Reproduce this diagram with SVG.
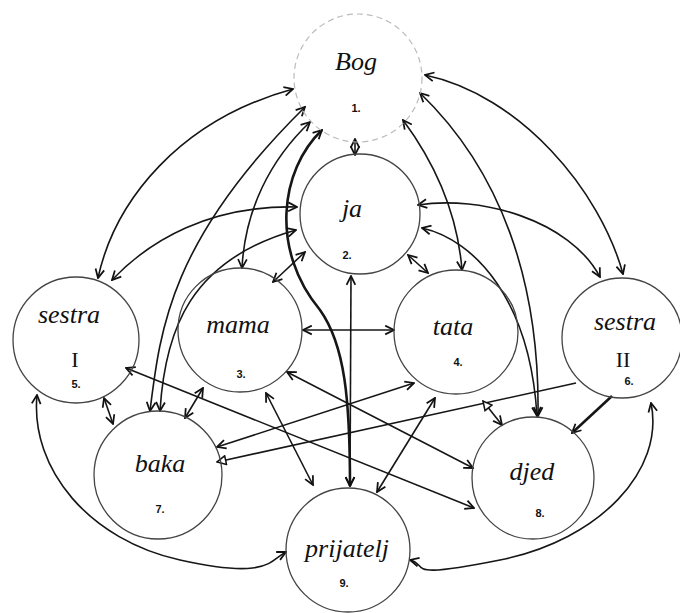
<svg xmlns="http://www.w3.org/2000/svg" width="680" height="613" viewBox="0 0 680 613">
<defs>
<marker id="a" viewBox="0 0 10 10" refX="9" refY="5" markerWidth="11" markerHeight="11" markerUnits="userSpaceOnUse" orient="auto-start-reverse"><path d="M1,1 L9,5 L1,9" fill="none" stroke="#111" stroke-width="1.6"/></marker>
<marker id="t" viewBox="0 0 10 10" refX="9" refY="5" markerWidth="11" markerHeight="11" markerUnits="userSpaceOnUse" orient="auto-start-reverse"><path d="M1,1 L9,5 L1,9 Z" fill="#fff" stroke="#111" stroke-width="1.4"/></marker>
<style>
.c{fill:none;stroke:#444;stroke-width:1.3}
.cb{fill:none;stroke:#bbb;stroke-width:1.2;stroke-dasharray:6 4}
.e{fill:none;stroke:#161616;stroke-width:1.6;marker-start:url(#a);marker-end:url(#a)}
.k{stroke-width:2.6}
.n{font-family:"Liberation Serif","DejaVu Serif",serif;font-style:italic;font-size:26px;fill:#111;text-anchor:middle}
.d{font-family:"Liberation Sans","DejaVu Sans",sans-serif;font-size:11px;font-weight:bold;fill:#111;text-anchor:middle}
.r{font-family:"Liberation Serif","DejaVu Serif",serif;font-size:22px;fill:#111;text-anchor:middle}
</style>
</defs>
<g id="connectors">
<path class="e" d="M98 278 C115 200 180 120 293 89"/>
<path class="e" d="M150 411 C160 330 170 240 305 107"/>
<path class="e" d="M310 122 C270 160 245 210 242 268"/>
<path class="e k" d="M322 130 C280 170 270 250 320 310 C345 345 350 400 350 486"/>
<path class="e" d="M355 139 L355 155"/>
<path class="e" d="M425 75 C520 95 600 190 623 274"/>
<path class="e" d="M420 93 C500 170 540 280 538 416"/>
<path class="e" d="M403 120 C440 170 458 220 462 270"/>
<path class="e" d="M418 205 C480 195 570 220 600 277"/>
<path class="e" d="M422 228 C475 240 530 300 537 416"/>
<path class="e" d="M408 255 L428 273"/>
<path class="e" d="M305 252 L273 282"/>
<path class="e" d="M351 276 L350 486"/>
<path class="e" d="M112 280 C150 240 210 205 297 207"/>
<path class="e" d="M160 411 C165 330 190 260 296 230"/>
<path class="e" d="M303 330 L394 330"/>
<path class="e" d="M203 388 L185 418"/>
<path class="e" d="M287 372 L473 468"/>
<path class="e" d="M266 393 L313 485"/>
<path class="e" d="M414 383 L217 447"/>
<path d="M576 383 L217 462" fill="none" stroke="#161616" stroke-width="1.6" marker-end="url(#t)"/>
<path d="M483 401 L502 425" fill="none" stroke="#161616" stroke-width="1.6" marker-start="url(#t)" marker-end="url(#a)"/>
<path class="e" d="M435 398 L377 492"/>
<path class="e" d="M126 368 L474 508"/>
<path class="e" d="M104 398 L113 424"/>
<path class="e" d="M37 395 C30 470 90 540 180 560 S270 560 286 552"/>
<path class="e" d="M651 403 C665 470 600 540 500 560 S430 565 410 560"/>
<path d="M612 396 L572 433" fill="none" stroke="#161616" stroke-width="2.6" marker-end="url(#a)"/>
</g>
<g id="bog"><circle class="cb" cx="358" cy="78" r="64"/><text class="n" x="356" y="70">Bog</text><text class="d" x="356" y="112">1.</text></g>
<g id="ja"><circle class="c" cx="360" cy="214" r="60"/><text class="n" x="352" y="217">ja</text><text class="d" x="347" y="259">2.</text></g>
<g id="sestra1"><circle class="c" cx="76" cy="340" r="63"/><text class="n" x="69" y="323">sestra</text><text class="r" x="75" y="367">I</text><text class="d" x="76" y="388">5.</text></g>
<g id="mama"><circle class="c" cx="240" cy="330" r="62"/><text class="n" x="238" y="333">mama</text><text class="d" x="241" y="378">3.</text></g>
<g id="tata"><circle class="c" cx="456" cy="332" r="62"/><text class="n" x="453" y="335">tata</text><text class="d" x="458" y="366">4.</text></g>
<g id="sestra2"><circle class="c" cx="622" cy="338" r="60"/><text class="n" x="625" y="330">sestra</text><text class="r" x="623" y="367">II</text><text class="d" x="629" y="385">6.</text></g>
<g id="baka"><circle class="c" cx="158" cy="475" r="64"/><text class="n" x="160" y="472">baka</text><text class="d" x="160" y="513">7.</text></g>
<g id="djed"><circle class="c" cx="533" cy="478" r="61"/><text class="n" x="532" y="480">djed</text><text class="d" x="540" y="517">8.</text></g>
<g id="prijatelj"><circle class="c" cx="348" cy="550" r="62"/><text class="n" x="347" y="557">prijatelj</text><text class="d" x="344" y="587">9.</text></g>
</svg>
